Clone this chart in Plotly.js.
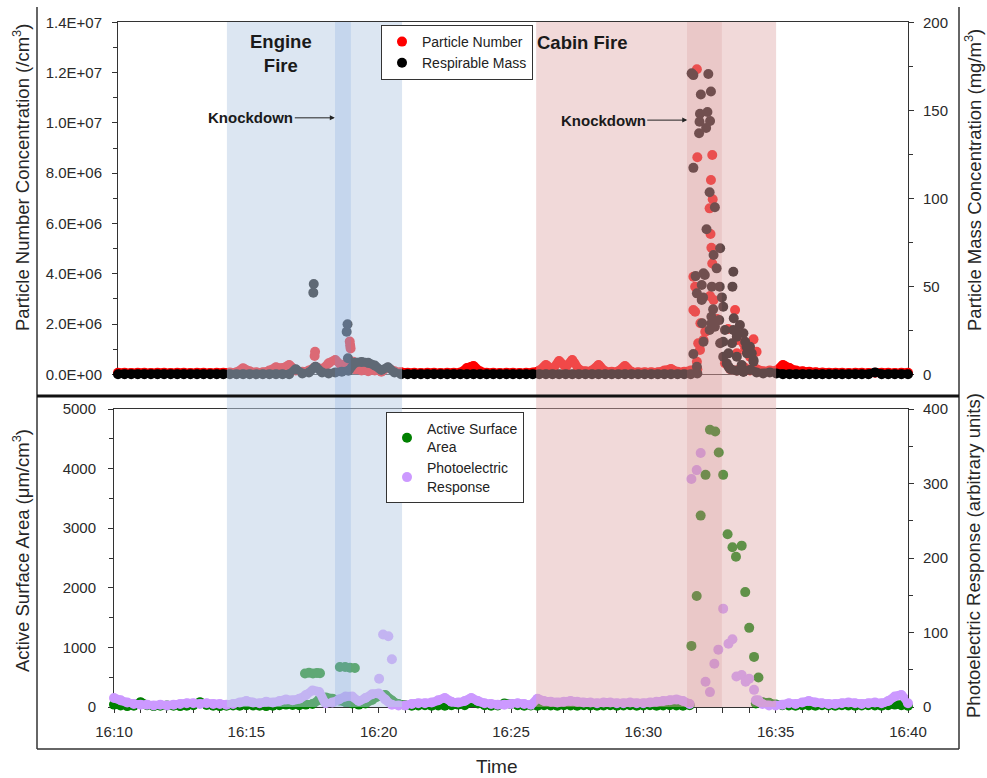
<!DOCTYPE html>
<html>
<head>
<meta charset="utf-8">
<script src="https://cdn.plot.ly/plotly-3.0.1.min.js"></script>
<style>html,body{margin:0;padding:0;background:#fff;}#chart{width:987px;height:778px;}</style>
</head>
<body>
<div id="chart"></div>
<script>
// ---------------- DATA ----------------
const day = '2024-01-01 ';
// regular instrument sample clock: 16:10:00 -> 16:40:00 every 15 s (121 samples)
const sampleStart = '16:10:00';
const sampleStepSec = 15;

// Particle Number (/cm3) at sample clock
const pnBase = [
  6e4,6e4,5e4,6e4,6e4,5e4,6e4,6e4,5e4,6e4,
  6e4,5e4,6e4,6e4,5e4,6e4,6e4,7e4,8e4,2.4e5,
  1.2e5,8e4,8e4,1.5e5,2.8e5,2.5e5,3.7e5,1.5e5,1.0e5,1.5e5,
  3.0e5,2.2e5,4.4e5,5.7e5,3.5e5,5.0e5,2.0e5,1.5e5,1.2e5,1.5e5,
  1.0e5,2.6e5,1.2e5,8e4,6e4,6e4,5e4,6e4,6e4,5e4,
  6e4,6e4,7e4,2.5e5,3.3e5,1.2e5,6e4,6e4,5e4,6e4,
  6e4,5e4,6e4,7e4,1.5e5,3.7e5,2.0e5,5.3e5,3.0e5,5.7e5,
  2.0e5,1.2e5,1.5e5,3.7e5,1.2e5,1.0e5,1.2e5,3.3e5,1.0e5,8e4,
  8e4,8e4,8e4,1.5e5,2.1e5,1.0e5,1.0e5,1.5e5,2.0e5,null,
  null,null,null,2.0e5,1.5e5,3.0e5,1.5e5,2.0e5,1.2e5,1.5e5,
  1.5e5,3.7e5,2.5e5,1.5e5,1.2e5,1.0e5,8e4,7e4,6e4,6e4,
  6e4,5e4,6e4,6e4,5e4,6e4,6e4,6e4,5e4,6e4,
  6e4
];
const pnEventTimes = ['16:17:29','16:17:28','16:18:48','16:18:49','16:18:50','16:18:56',
  '16:31:59','16:32:00','16:32:34','16:32:31','16:32:35','16:32:28','16:32:30','16:32:32','16:32:34','16:31:51',
  '16:31:55','16:32:29','16:31:55','16:33:26','16:31:51','16:32:07','16:32:18','16:32:14','16:34:08','16:33:49',
  '16:31:59','16:32:02','16:32:06','16:32:37','16:33:30','16:33:45','16:34:00','16:33:03','16:33:30','16:32:45',
  '16:33:10','16:34:15'];
const pnEventValues = [9.0e5,7.3e5,1.30e6,1.15e6,1.03e6,5.0e5,
  1.213e7,8.63e6,8.72e6,7.73e6,6.96e6,6.60e6,5.58e6,5.03e6,4.41e6,3.88e6,
  3.48e6,3.11e6,2.49e6,2.56e6,2.56e6,2.03e6,1.69e6,1.36e6,1.39e6,1.03e6,
  5.0e5,1.23e6,9.7e5,2.96e6,1.36e6,1.23e6,7.0e5,4.4e5,8.4e5,2.2e6,
  1.8e6,9.0e5];

// Respirable Mass (mg/m3) at sample clock
const rmBase = [
  0,0,0,0,0,0,0,0,0,0,
  0,0,0,0,0,0,0,0,0,0,
  0,0,0,0,0,0,0,2.8,0.5,1,
  4.3,1,0.5,1,1.5,2,6.5,7,6.5,5,
  2.5,4,1,0,0,0,0,0,0,0,
  0,0,0,0,0,0,0,0,0,0,
  0,0,0,0,0,0,0,0,0,0,
  0,0,0,0,0,0,0,0,0,0,
  0,0,0,0,0,0,0,0,0.5,null,
  null,null,null,3,2,1.5,2.5,1,0.5,1,
  0.5,0,0,0,0,0,0,0,0,0,
  0,0,0,0,0,1,0,0,0,0,
  0
];
const rmEventTimes = ['16:17:26','16:17:25','16:18:43','16:18:41','16:18:44',
  '16:31:51','16:31:47','16:32:25','16:32:08','16:32:31','16:32:06','16:32:23','16:32:05','16:32:29','16:32:20',
  '16:32:04','16:31:51','16:32:28','16:32:40','16:32:21','16:32:52','16:32:37','16:33:22','16:33:20','16:31:56',
  '16:32:14','16:32:44','16:32:17','16:32:10','16:32:33','16:32:51','16:32:13','16:32:56','16:32:36','16:32:59',
  '16:33:23','16:32:11','16:32:32','16:32:50','16:33:37','16:32:28','16:33:03','16:33:30','16:32:14','16:32:59',
  '16:33:19','16:33:49','16:34:00','16:31:51','16:33:11','16:33:30','16:33:53','16:34:08','16:33:07','16:33:41',
  '16:31:59','16:33:22','16:33:30','16:33:45','16:33:52','16:34:04','16:34:08','16:33:11','16:33:45','16:32:59',
  '16:32:52','16:32:40','16:32:32','16:32:10','16:31:59'];
const rmEventValues = [51.3,46.4,28.4,24.2,9.1,
  170,171,170.6,159,160.7,148,149,143.5,143.9,140,
  137,117.3,103.4,94.9,82.4,71.6,67.8,58.3,49.8,55.8,
  57.4,60.2,56.4,50.7,49.8,49.8,43.7,43.7,36.9,38.4,
  31.8,29,29,30.8,28,25.2,25.2,23.3,18.5,18.5,
  17.6,18.5,15.7,11.5,11.9,10,11.9,8.1,6.2,5.3,
  4.3,25.2,21.4,23.3,15.7,11.9,7.2,4.3,1.5,10,
  17.6,27,32.7,42.2,46];

// Active Surface Area (um/cm3) at sample clock
const asaBase = [
  40,25,15,20,79,30,15,20,25,20,
  15,20,30,79,35,20,15,20,25,20,
  30,25,20,15,20,30,40,35,30,40,
  50,120,160,140,110,80,60,40,60,120,
  180,200,110,50,30,20,25,30,20,25,
  20,30,40,30,80,60,30,20,25,60,
  50,30,20,25,20,30,25,20,30,25,
  20,30,25,20,25,30,20,25,30,20,
  25,30,20,25,30,25,20,30,null,null,
  null,null,null,null,null,null,null,60,80,70,
  40,30,25,20,30,25,20,30,25,20,
  30,25,20,25,30,25,20,30,40,30,
  20
];
const asaEventTimes = ['16:17:13','16:17:22','16:17:31','16:17:40','16:17:47','16:18:32','16:18:44','16:18:55','16:19:06',
  '16:32:31','16:32:43','16:32:51','16:32:21','16:33:01','16:32:10','16:33:11','16:33:22','16:33:43','16:33:30',
  '16:32:01','16:33:51','16:34:00','16:31:49','16:34:11','16:34:21'];
const asaEventValues = [561,575,561,570,565,672,672,660,655,
  4651,4623,4270,3895,3895,3211,2898,2679,2707,2522,
  1861,1928,1328,1025,841,494];

// Photoelectric Response (arbitrary units) at sample clock
const perBase = [
  12,9,6,4,3,3,2,3,2,3,
  4,5,5,4,5,4,4,3,4,6,
  8,6,5,7,6,8,10,9,11,16,
  22,20,5,6,10,14,14,8,12,17,
  18,10,3,2,2,4,5,5,6,9,
  12,7,6,8,12,8,5,4,3,3,
  4,5,4,3,11,8,7,6,7,8,
  7,6,6,5,6,6,5,5,6,5,
  5,6,7,8,9,10,8,4,null,null,
  null,null,null,null,null,null,null,9,4,2,
  2,3,5,4,6,8,6,5,4,4,
  5,6,5,4,5,6,5,8,14,16,
  5
];
const perEventTimes = ['16:20:10','16:20:22','16:20:30','16:20:01',
  '16:32:10','16:32:01','16:31:49','16:33:01','16:33:13','16:33:22','16:32:50','16:32:41','16:32:21','16:32:31',
  '16:33:31','16:33:43','16:33:52','16:34:00','16:34:11','16:34:21'];
const perEventValues = [97.4,95,64,38,
  341,318,306,132,85,91,77,58,34,20,
  41,43,34,38,23,9];

// tick labels
const pnTickVals = [0,2e6,4e6,6e6,8e6,1.0e7,1.2e7,1.4e7];
const pnTickText = ['0.0E+00','2.0E+06','4.0E+06','6.0E+06','8.0E+06','1.0E+07','1.2E+07','1.4E+07'];

// fire periods
const engineFire = ['16:14:16','16:20:53'];
const engineKnock = ['16:18:21','16:18:57'];
const cabinFire = ['16:25:57','16:35:01'];
const cabinKnock = ['16:31:39','16:32:58'];

// ---------------- BUILD ----------------
function sampleClock(startHms, stepSec, n) {
  const base = new Date('2024-01-01T' + startHms + 'Z').getTime();
  const out = [];
  for (let i = 0; i < n; i++) {
    const d = new Date(base + i * stepSec * 1000);
    out.push(day + d.toISOString().substr(11, 8));
  }
  return out;
}
const clock = sampleClock(sampleStart, sampleStepSec, pnBase.length);
const ts = a => a.map(h => day + h);

const FONT = 'Liberation Sans, Arial, sans-serif';
const MS = 10;
const BANDW = 9;

function series(name, base, evT, evV, xa, ya, color, legend) {
  // continuous dense baseline (drawn as a thick band, like the densely sampled original)
  const band = {x: clock, y: base, xaxis: xa, yaxis: ya, mode: 'lines', type: 'scatter',
    line: {color: color, width: BANDW, shape: 'spline', smoothing: 0.8},
    showlegend: false, hoverinfo: 'skip', cliponaxis: false};
  const pts = {name: name, x: clock.concat(ts(evT)), y: base.concat(evV), xaxis: xa, yaxis: ya,
    mode: 'markers', type: 'scatter', legend: legend, cliponaxis: false,
    marker: {color: color, size: MS}};
  return [band, pts];
}

const traces = [].concat(
  series('Particle Number', pnBase, pnEventTimes, pnEventValues, 'x2', 'y2', '#ff0000', 'legend'),
  series('Respirable Mass', rmBase, rmEventTimes, rmEventValues, 'x2', 'y4', '#000000', 'legend'),
  series('Active Surface<br>Area', asaBase, asaEventTimes, asaEventValues, 'x', 'y', '#008000', 'legend2'),
  series('Photoelectric<br>Response', perBase, perEventTimes, perEventValues, 'x', 'y3', '#cc99ff', 'legend2')
);

// layout geometry (plot area: px x 110..912, y 20..708)
const L = 110, R = 912, T = 20, B = 708;
const W = R - L, H = B - T;
const px = x => (x - L) / W;
const py = y => (B - y) / H;

const tickFont = {family: FONT, size: 15, color: '#2a2a2a'};
const AX = '#333333';
const commonY = {showgrid: false, zeroline: false, showline: true, linecolor: AX, linewidth: 1,
  ticks: 'outside', ticklen: 5, tickcolor: AX, tickfont: tickFont, fixedrange: true, layer: 'below traces'};

const shadeA = 'rgba(187,206,230,0.51)';
const shadeAdark = 'rgba(100,150,220,0.19)';
const shadeB = 'rgba(223,167,167,0.43)';
const shadeBdark = 'rgba(200,120,120,0.17)';
function band(range, color) {
  return {type: 'rect', xref: 'x', yref: 'paper', x0: day + range[0], x1: day + range[1],
    y0: py(707), y1: py(22), fillcolor: color, line: {width: 0}, layer: 'above'};
}
function pline(x0, y0, x1, y1, w, c) {
  return {type: 'line', xref: 'paper', yref: 'paper', x0: px(x0), y0: py(y0), x1: px(x1), y1: py(y1),
    line: {color: c, width: w}, layer: 'above'};
}

const titleFont = {family: FONT, size: 18.5, color: '#262626'};
function vtitle(text, x, y) {
  return {text: text, xref: 'paper', yref: 'paper', x: px(x), y: py(y), textangle: -90,
    showarrow: false, font: titleFont, xanchor: 'center', yanchor: 'middle'};
}

const layout = {
  width: 987, height: 778,
  margin: {l: L, r: 987 - R, t: T, b: 778 - B},
  paper_bgcolor: '#ffffff', plot_bgcolor: 'rgba(0,0,0,0)',
  font: {family: FONT, color: '#222'},
  showlegend: true,
  xaxis: {domain: [px(114), px(908)], anchor: 'y', type: 'date',
    range: [day + '16:10:00', day + '16:40:00'], tick0: day + '16:10:00', dtick: 300000,
    tickformat: '%H:%M', ticks: 'outside', ticklen: 5, tickcolor: AX, tickfont: tickFont,
    ticklabelstandoff: 6, layer: 'below traces',
    minor: {dtick: 60000, ticks: 'outside', ticklen: 5, tickcolor: AX},
    showline: true, mirror: true, linecolor: AX, linewidth: 1, showgrid: false, zeroline: false, fixedrange: true},
  xaxis2: {domain: [px(118), px(908)], anchor: 'y2', type: 'date', matches: 'x',
    showticklabels: false, ticks: '', showline: true, mirror: true, linecolor: AX, linewidth: 1,
    showgrid: false, zeroline: false, fixedrange: true, layer: 'below traces'},
  yaxis: Object.assign({}, commonY, {domain: [py(707), py(409)], anchor: 'x', range: [0, 5000], dtick: 1000,
    ticklabelstandoff: 9, minor: {dtick: 500, ticks: 'outside', ticklen: 4, tickcolor: AX}}),
  yaxis3: Object.assign({}, commonY, {overlaying: 'y', side: 'right', anchor: 'x', range: [0, 400], dtick: 100,
    ticklabelstandoff: 6, minor: {dtick: 50, ticks: 'outside', ticklen: 4, tickcolor: AX}}),
  yaxis2: Object.assign({}, commonY, {domain: [py(374.3), py(22.3)], anchor: 'x2', range: [0, 1.4e7],
    tickmode: 'array', tickvals: pnTickVals, ticktext: pnTickText, ticklabelstandoff: 7,
    minor: {tickmode: 'linear', tick0: 0, dtick: 1e6, ticks: 'outside', ticklen: 4, tickcolor: AX}}),
  yaxis4: Object.assign({}, commonY, {overlaying: 'y2', side: 'right', anchor: 'x2', range: [0, 200], dtick: 50,
    ticklabelstandoff: 6, minor: {dtick: 25, ticks: 'outside', ticklen: 4, tickcolor: AX}}),
  legend: {x: px(381), y: py(25), xanchor: 'left', yanchor: 'top', bgcolor: '#ffffff',
    bordercolor: '#333', borderwidth: 1, font: {family: FONT, size: 14, color: '#222'},
    itemwidth: 30, tracegroupgap: 0},
  legend2: {x: px(386), y: py(412), xanchor: 'left', yanchor: 'top', bgcolor: '#ffffff',
    bordercolor: '#333', borderwidth: 1, font: {family: FONT, size: 14, color: '#222'},
    itemwidth: 30, tracegroupgap: 0},
  shapes: [
    band(engineFire, shadeA), band(engineKnock, shadeAdark),
    band(cabinFire, shadeB), band(cabinKnock, shadeBdark),
    pline(37, 7, 37, 749, 1.5, '#333'),
    pline(959, 7, 959, 749, 1.5, '#333'),
    pline(37, 749, 959, 749, 1.5, '#333'),
    pline(37, 396, 959, 396, 3, '#111')
  ],
  annotations: [
    vtitle('Particle Number Concentration (/cm<sup>3</sup>)', 21, 178),
    vtitle('Particle Mass Concentration (mg/m<sup>3</sup>)', 973, 180),
    vtitle('Active Surface Area (μm/cm<sup>3</sup>)', 21, 551),
    vtitle('Photoelectric Response (arbitrary units)', 973, 556),
    {text: 'Time', xref: 'paper', yref: 'paper', x: px(497), y: py(766), showarrow: false,
     font: {family: FONT, size: 19, color: '#262626'}, xanchor: 'center', yanchor: 'middle'},
    {text: '<b>Engine<br>Fire</b>', xref: 'paper', yref: 'paper', x: px(281), y: py(54), showarrow: false,
     font: {family: FONT, size: 18.5, color: '#1a1a1a'}, xanchor: 'center', yanchor: 'middle'},
    {text: '<b>Cabin Fire</b>', xref: 'paper', yref: 'paper', x: px(582), y: py(43), showarrow: false,
     font: {family: FONT, size: 18.5, color: '#1a1a1a'}, xanchor: 'center', yanchor: 'middle'},
    {text: '<b>Knockdown</b>', xref: 'x2', yref: 'y2', x: day + '16:18:14', y: 1.02e7,
     ax: -84, ay: 0, showarrow: true, arrowhead: 2, arrowsize: 1, arrowwidth: 1, arrowcolor: '#222',
     font: {family: FONT, size: 15, color: '#1a1a1a'}},
    {text: '<b>Knockdown</b>', xref: 'x2', yref: 'y2', x: day + '16:31:37', y: 1.011e7,
     ax: -84, ay: 0, showarrow: true, arrowhead: 2, arrowsize: 1, arrowwidth: 1, arrowcolor: '#222',
     font: {family: FONT, size: 15, color: '#1a1a1a'}}
  ]
};

Plotly.newPlot('chart', traces, layout, {displayModeBar: false, staticPlot: true});
</script>
</body>
</html>
